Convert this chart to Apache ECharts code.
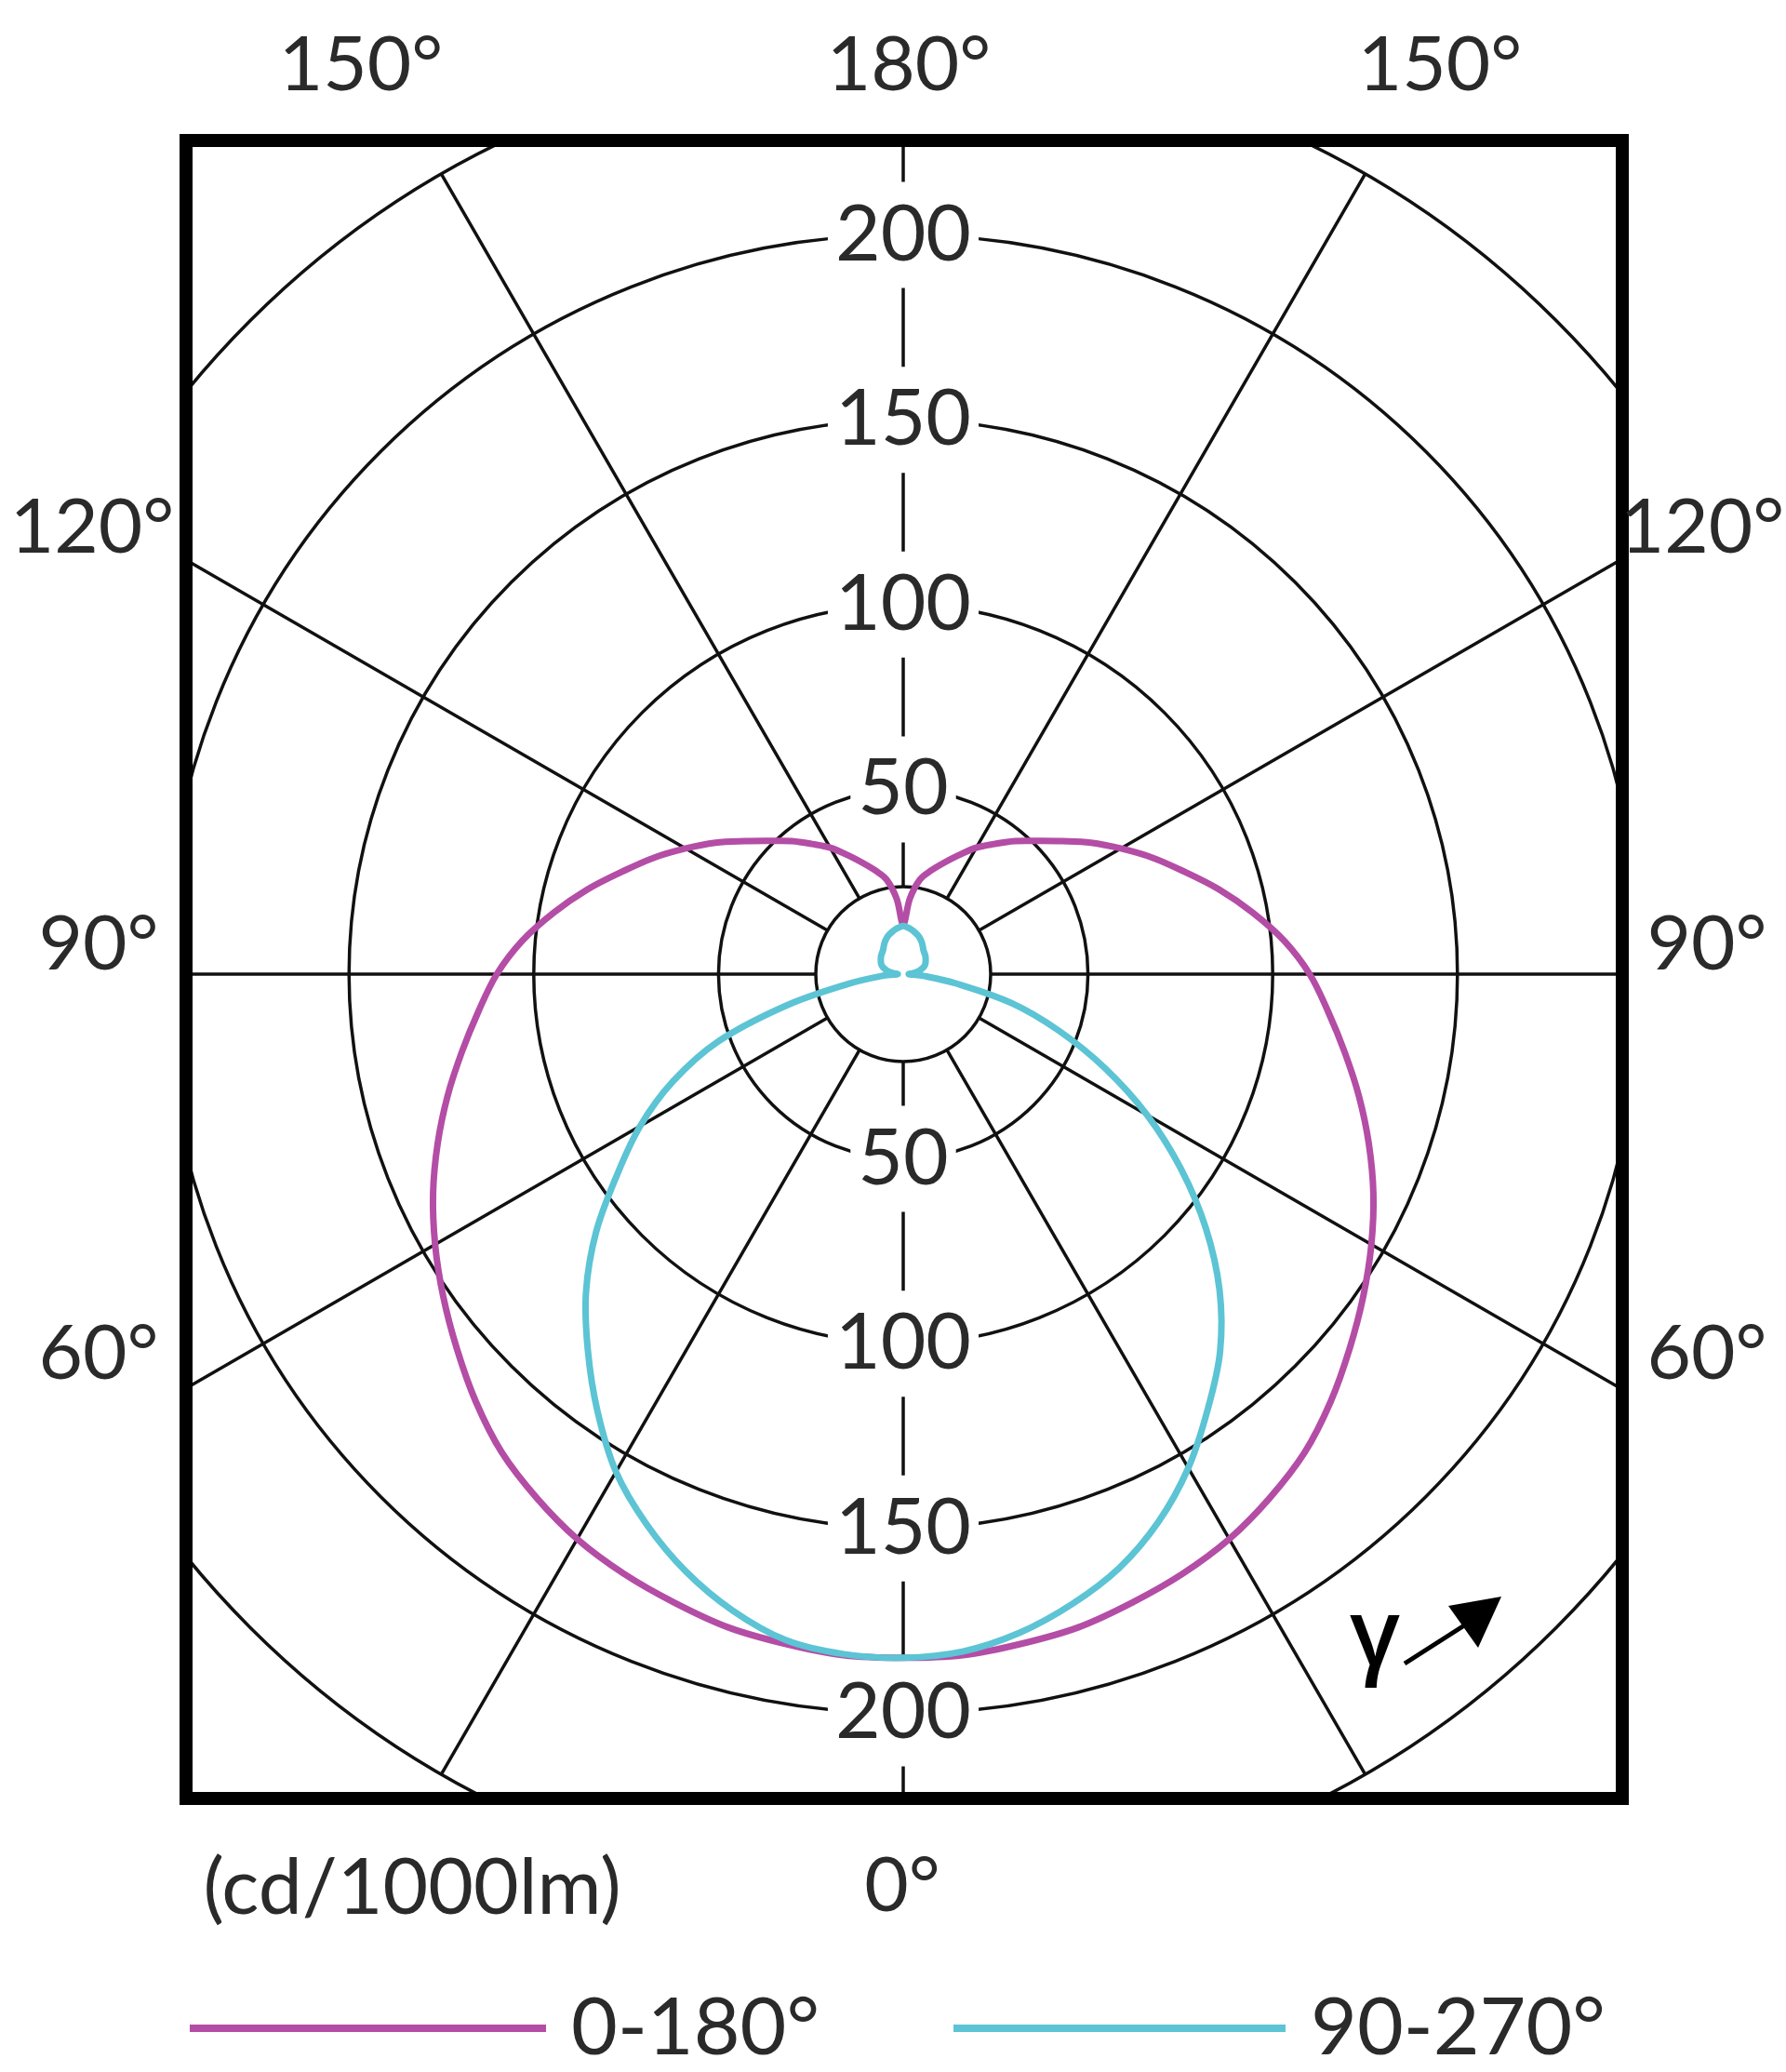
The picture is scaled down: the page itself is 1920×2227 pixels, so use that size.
<!DOCTYPE html>
<html>
<head>
<meta charset="utf-8">
<script src="https://cdn.jsdelivr.net/npm/echarts@6/dist/echarts.min.js"></script>
<style>
html,body{margin:0;padding:0;background:#fff;}
#chart{width:1920px;height:2227px;}
</style>
</head>
<body>
<div id="chart"></div>
<script>
// ---- data (cd/1000lm vs gamma angle) ----
const gamma = [0,5,10,15,20,25,30,35,40,45,50,55,60,65,70,75,80,85,90,95,100,105,110,115,120,125,130,135,140,145,150,155,160,165,170,175,180];
// C0-C180 plane (mirrored on both halves)
const plane0_180 = [185,185,184,183,181,179,176.5,173,169,163.6,157.7,152,146.3,140.4,134.1,127.7,121.3,115.4,110,103.5,96,88.5,81,74.5,68,62,56,51,47,43,39.5,35.5,32,29,26,20.5,13.5];
// C90-C270 plane, left half and right half
const plane90_270L = [185,184.7,183,178.3,172,164.3,155.5,144.3,132.8,121.4,108.5,94.5,82.2,68.8,53.3,32.6,15,6,1.5,2.5,4,5,6,6.6,7,7.4,7.8,8.1,8.5,9.2,10,10.7,11.3,11.8,12.3,12.7,13];
const plane90_270R = [185,184,181,176.5,171,163.5,154.3,143.7,133.4,121.1,106.9,91.7,76.2,60.3,44.9,30.5,14.5,5.5,1.5,2.5,4,5,6,6.6,7,7.4,7.8,8.1,8.5,9.2,10,10.7,11.3,11.8,12.3,12.7,13];
const seriesNames = ['0-180°', '90-270°'];
const seriesColors = ['#B44DA5', '#5CC4D4'];
const radiusTicks = [0, 50, 100, 150, 200, 250];
const angleTickLabels = ['150°','180°','150°','120°','90°','60°','120°','90°','60°','0°'];
const unitLabel = '(cd/1000lm)';

// ---- layout ----
const CX = 971, CY = 1047, R = 993;
const angleLabelPos = [[388,71],[977,71],[1548,71],[99,568],[106,1016],[106,1456],[1830,568],[1835,1016],[1835,1456],[970,2028]];
const BOX = {x:200, y:151, w:1544, h:1782};
const FONT = 'Lato, "Open Sans", sans-serif';
const TXT = '#2a2a2a';

// closed curve: left half (angle = gamma), then right half (angle = 360 - gamma), no duplicated points
function closedCurve(left, right) {
  const d = [];
  for (let i = 0; i < gamma.length; i++) d.push([left[i], gamma[i]]);
  for (let i = gamma.length - 2; i >= 1; i--) d.push([right[i], 360 - gamma[i]]);
  return d;
}
const curves = [closedCurve(plane0_180, plane0_180), closedCurve(plane90_270L, plane90_270R)];

const chart = echarts.init(document.getElementById('chart'), null, {renderer:'canvas'});

const labelAxis = (idx) => ({
  polarIndex: idx, type: 'value', min: radiusTicks[0], max: radiusTicks[radiusTicks.length-1],
  interval: radiusTicks[1]-radiusTicks[0], z: 1,
  axisLine: {show:false}, axisTick: {show:false}, splitLine: {show:false},
  axisLabel: {
    show: true, showMinLabel: false, showMaxLabel: false, margin: 0,
    align: 'center', verticalAlign: 'middle',
    fontSize: 84, lineHeight: 86, fontFamily: FONT, fontWeight: 400, color: TXT,
    backgroundColor: '#fff', padding: [14, 8]
  }
});
const hiddenAngle = (idx, start) => ({
  polarIndex: idx, type: 'value', min: 0, max: 360, interval: 30, startAngle: start, clockwise: true, show: false
});

const txtStyle = (t, size) => ({text:t, fill:TXT, fontSize:size, fontWeight:400, fontFamily:FONT,
  align:'center', verticalAlign:'middle', textAlign:'center', textVerticalAlign:'middle'});

const graphics = [];
graphics.push({type:'circle', z: 2, shape:{cx:CX, cy:CY, r:94}, style:{fill:'#fff', stroke:'#111', lineWidth:3.5}});
graphics.push({type:'rect', z:10, shape:{x:0,y:0,width:1920,height:BOX.y}, style:{fill:'#fff'}});
graphics.push({type:'rect', z:10, shape:{x:0,y:BOX.y+BOX.h,width:1920,height:2227-BOX.y-BOX.h}, style:{fill:'#fff'}});
graphics.push({type:'rect', z:10, shape:{x:0,y:0,width:BOX.x,height:2227}, style:{fill:'#fff'}});
graphics.push({type:'rect', z:10, shape:{x:BOX.x+BOX.w,y:0,width:1920-BOX.x-BOX.w,height:2227}, style:{fill:'#fff'}});
graphics.push({type:'rect', z:11, shape:{x:BOX.x,y:BOX.y,width:BOX.w,height:BOX.h}, style:{fill:'none', stroke:'#000', lineWidth:14}});
angleTickLabels.forEach((t, i) => {
  graphics.push({type:'text', z:12, x: angleLabelPos[i][0], y: angleLabelPos[i][1], style: txtStyle(t, 82)});
});
graphics.push({type:'text', z:12, x: 443, y: 2030, style: txtStyle(unitLabel, 84)});
graphics.push({type:'text', z:12, x: 1478, y: 1762,
  style:{text:'γ', fill:'#000', fontSize:100, fontWeight:600, fontFamily:'"Open Sans", sans-serif', align:'center', verticalAlign:'middle', textAlign:'center', textVerticalAlign:'middle'}});
graphics.push({type:'line', z:12, shape:{x1:1510,y1:1788,x2:1582,y2:1742}, style:{stroke:'#000', lineWidth:5}});
graphics.push({type:'polygon', z:12, shape:{points:[[1557,1726],[1614,1716],[1589,1771]]}, style:{fill:'#000'}});

const curveSeries = (k) => ({
  name: seriesNames[k], type: 'custom', coordinateSystem: 'polar', polarIndex: 0, z: 3,
  encode: {radius: 0, angle: 1},
  data: curves[k],
  itemStyle: {color: seriesColors[k]},
  renderItem: (params, api) => {
    if (params.dataIndex !== 0) return null;
    const pts = curves[k].map(d => api.coord(d));
    return {type: 'polygon', shape: {points: pts, smooth: 0.35},
      style: {fill: 'none', stroke: seriesColors[k], lineWidth: 7, lineJoin: 'round'}};
  }
});

const option = {
  backgroundColor: '#fff',
  animation: false,
  polar: [
    {center:[CX, CY], radius: R},
    {center:[CX, CY], radius: R},
    {center:[CX, CY], radius: R}
  ],
  angleAxis: [
    {polarIndex:0, type:'value', min:0, max:360, interval:30, startAngle:270, clockwise:true, z:0,
     axisLine:{show:false}, axisTick:{show:false}, axisLabel:{show:false},
     splitLine:{show:true, lineStyle:{color:'#111', width:3.5}}},
    hiddenAngle(1, 270),
    hiddenAngle(2, 90)
  ],
  radiusAxis: [
    {polarIndex:0, type:'value', min: radiusTicks[0], max: radiusTicks[radiusTicks.length-1], interval: radiusTicks[1]-radiusTicks[0], z:0,
     axisLine:{show:false}, axisTick:{show:false}, axisLabel:{show:false},
     splitLine:{show:true, lineStyle:{color:'#111', width:3.5}}},
    labelAxis(1),
    labelAxis(2)
  ],
  legend: [
    {data:[seriesNames[0]], left:199, top:2132, itemWidth:383, itemHeight:8, icon:'rect', z:12, selectedMode:false,
     textStyle:{fontSize:86, fontWeight:400, fontFamily:FONT, color:TXT, padding:[0,0,0,22]}},
    {data:[seriesNames[1]], left:1020, top:2132, itemWidth:357, itemHeight:8, icon:'rect', z:12, selectedMode:false,
     textStyle:{fontSize:86, fontWeight:400, fontFamily:FONT, color:TXT, padding:[0,0,0,22]}}
  ],
  series: [curveSeries(0), curveSeries(1)],
  graphic: {elements: graphics}
};
chart.setOption(option);
</script>
</body>
</html>
